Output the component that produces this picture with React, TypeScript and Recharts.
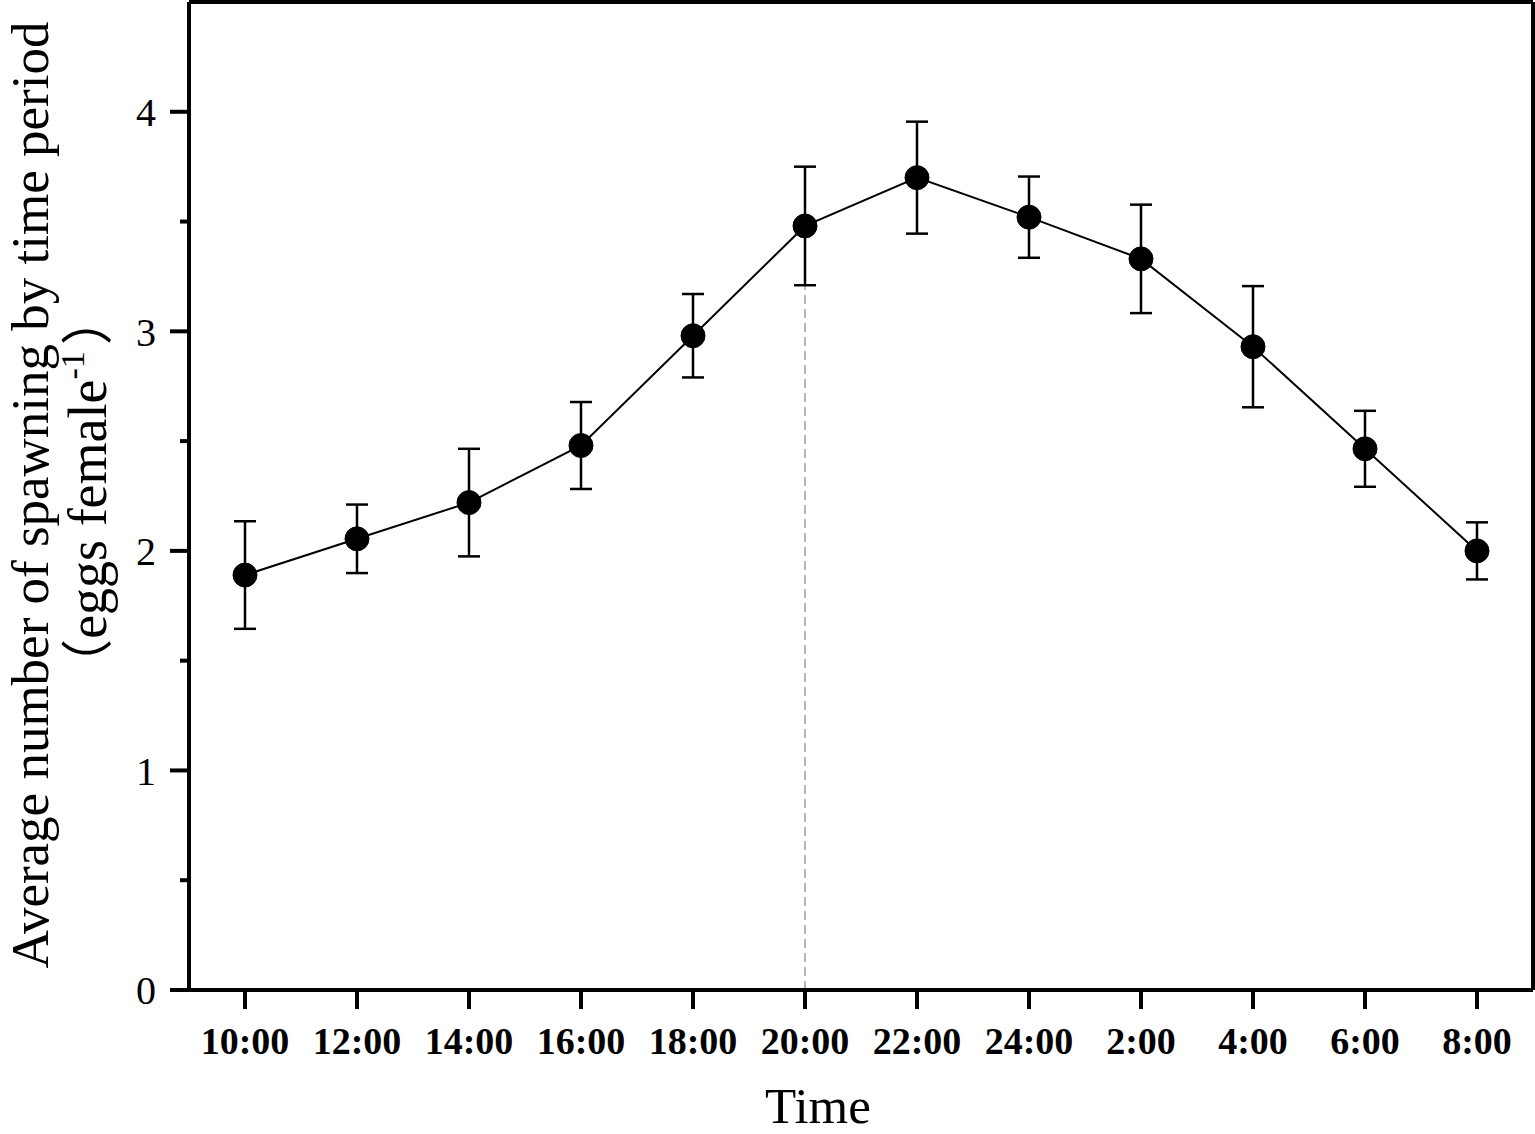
import React from "react";
import {
  LineChart,
  Line,
  XAxis,
  YAxis,
  ErrorBar,
  ReferenceLine,
} from "recharts";

// sampling times (2 h periods, through the night)
const TIMES = [
  "10:00", "12:00", "14:00", "16:00", "18:00", "20:00",
  "22:00", "24:00", "2:00", "4:00", "6:00", "8:00",
];
// mean eggs per female per period
const MEANS = [1.89, 2.055, 2.22, 2.48, 2.98, 3.48, 3.7, 3.52, 3.33, 2.93, 2.465, 2.0];
// standard error
const ERRS = [0.245, 0.156, 0.245, 0.198, 0.19, 0.27, 0.255, 0.185, 0.247, 0.276, 0.173, 0.13];

const Y_TICKS = [0, 0.5, 1, 1.5, 2, 2.5, 3, 3.5, 4];
const Y_DOMAIN = [0, 4.5];
const PEAK_TIME = "20:00";

const data = TIMES.map((time, i) => ({ time, mean: MEANS[i], err: ERRS[i] }));
const peakValue = MEANS[TIMES.indexOf(PEAK_TIME)];

const FONT = "'Liberation Serif', 'Times New Roman', serif";
const CJK = "'Noto Sans CJK SC', sans-serif";
const TICK_SIZE = 19;
const TICK_MARGIN = 14;
const AXIS = { stroke: "#000", strokeWidth: 4 };

function YTick(props: any) {
  const { x, y, payload } = props;
  const axisX = x + TICK_SIZE + TICK_MARGIN;
  const v = payload.value as number;
  const major = Number.isInteger(v);
  return (
    <g>
      <line
        x1={axisX - (major ? TICK_SIZE : 9)}
        x2={axisX}
        y1={y}
        y2={y}
        stroke="#000"
        strokeWidth={4}
      />
      {major && (
        <text
          x={x}
          y={y}
          dy="0.355em"
          textAnchor="end"
          fontFamily={FONT}
          fontSize={40}
          fill="#000"
        >
          {v}
        </text>
      )}
    </g>
  );
}

function YTitle() {
  return (
    <g fontFamily={FONT} fill="#000">
      <text x={48} y={495} fontSize={53} textAnchor="middle" transform="rotate(-90 48 495)">
        Average number of spawning by time period
      </text>
      <text x={106} y={492} fontSize={54} textAnchor="middle" transform="rotate(-90 106 492)">
        <tspan fontFamily={CJK} fontSize={52}>（</tspan>
        <tspan>eggs female</tspan>
        <tspan dy={-22} fontSize={34}>-1</tspan>
        <tspan dy={22} dx={6} fontFamily={CJK} fontSize={52}>）</tspan>
      </text>
    </g>
  );
}

function XTitle() {
  return (
    <text x={818} y={1123} fontFamily={FONT} fontSize={51} textAnchor="middle" fill="#000">
      Time
    </text>
  );
}

export default function App() {
  return (
    <div style={{ position: "absolute", left: 0, top: 0, background: "#fff" }}>
      <LineChart
        width={1535}
        height={1134}
        data={data}
        margin={{ top: 1, right: 1, left: 0, bottom: 0 }}
      >
        <XAxis
          dataKey="time"
          height={144}
          padding={{ left: 56, right: 56 }}
          axisLine={AXIS}
          tickLine={AXIS}
          tickSize={19}
          tickMargin={18}
          interval={0}
          tick={{ fontSize: 38, fontWeight: "bold", fontFamily: FONT, fill: "#000" }}
          label={<XTitle />}
        />
        <XAxis
          xAxisId="top"
          dataKey="time"
          orientation="top"
          height={1}
          tick={false}
          tickLine={false}
          axisLine={AXIS}
        />
        <YAxis
          domain={Y_DOMAIN}
          ticks={Y_TICKS}
          width={189}
          interval={0}
          allowDataOverflow
          axisLine={AXIS}
          tickLine={false}
          tickSize={TICK_SIZE}
          tickMargin={TICK_MARGIN}
          tick={<YTick />}
          label={<YTitle />}
        />
        <YAxis
          yAxisId="right"
          orientation="right"
          domain={Y_DOMAIN}
          width={1}
          tick={false}
          tickLine={false}
          axisLine={AXIS}
        />
        <ReferenceLine
          segment={[
            { x: PEAK_TIME, y: 0 },
            { x: PEAK_TIME, y: peakValue },
          ]}
          stroke="#b5b5b5"
          strokeWidth={2}
          strokeDasharray="9 5"
        />
        <Line
          type="linear"
          dataKey="mean"
          stroke="#000"
          strokeWidth={2}
          dot={{ r: 12, fill: "#000", stroke: "#000", strokeWidth: 1 }}
          isAnimationActive={false}
        >
          <ErrorBar dataKey="err" width={11} stroke="#000" strokeWidth={2.5} direction="y" />
        </Line>
      </LineChart>
    </div>
  );
}
